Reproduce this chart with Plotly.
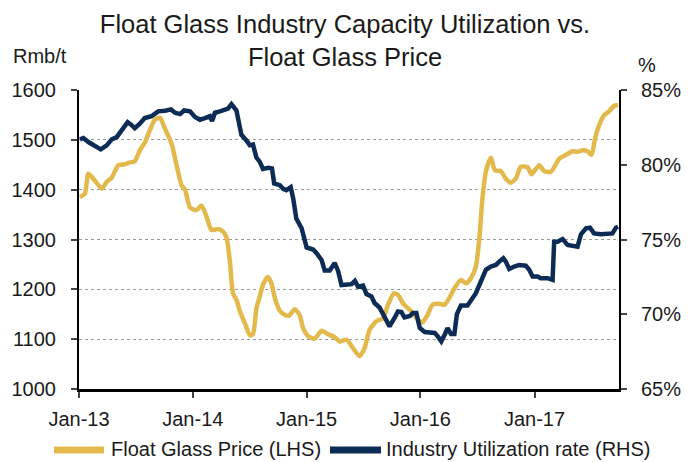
import plotly.graph_objects as go

# ---- data ----
price_dates = [
    "2013-01-04","2013-01-20","2013-01-31","2013-02-16","2013-03-15","2013-03-31","2013-04-16","2013-05-07",
    "2013-05-28","2013-06-08","2013-06-29","2013-07-15","2013-07-31","2013-08-16","2013-09-01","2013-09-18",
    "2013-10-04","2013-10-25","2013-11-10","2013-11-26","2013-12-07","2013-12-23",
    "2014-01-13","2014-01-29","2014-02-14","2014-03-02","2014-03-23","2014-04-08","2014-04-19","2014-04-30",
    "2014-05-10","2014-05-21","2014-06-01","2014-06-17","2014-07-03","2014-07-13","2014-07-24","2014-08-04",
    "2014-08-14","2014-08-29","2014-09-10","2014-09-21","2014-10-07","2014-10-23","2014-11-05","2014-11-24",
    "2014-12-10","2014-12-21",
    "2015-01-06","2015-01-27","2015-02-18","2015-03-11","2015-04-01","2015-04-17","2015-05-09","2015-05-30",
    "2015-06-20","2015-07-06","2015-07-22","2015-08-13","2015-09-03","2015-09-19","2015-10-08","2015-10-21",
    "2015-11-06","2015-12-03","2015-12-24",
    "2016-01-08","2016-01-24","2016-02-09","2016-03-02","2016-03-18","2016-04-03","2016-04-19","2016-05-10",
    "2016-05-26","2016-06-11","2016-06-27","2016-07-08","2016-07-18","2016-07-29","2016-08-14","2016-08-27",
    "2016-09-15","2016-10-01","2016-10-17","2016-11-02","2016-11-18","2016-12-10","2016-12-22",
    "2017-01-16","2017-02-01","2017-02-23","2017-03-21","2017-04-12","2017-05-03","2017-05-19","2017-06-04",
    "2017-06-20","2017-07-03","2017-07-14","2017-07-27","2017-08-12","2017-08-28","2017-09-13","2017-09-26",
]
price_values = [
    1385, 1392, 1432, 1422, 1402, 1416, 1424, 1449, 1451, 1454, 1457, 1479, 1494, 1519, 1540, 1544,
    1522, 1492, 1449, 1409, 1400, 1364,
    1359, 1368, 1346, 1319, 1321, 1316, 1304, 1256, 1192, 1179, 1156, 1132, 1108, 1110, 1162, 1186,
    1209, 1225, 1213, 1183, 1157, 1149, 1147, 1160, 1148, 1122,
    1106, 1101, 1117, 1110, 1104, 1095, 1099, 1082, 1066, 1082, 1119, 1136, 1142, 1169, 1192, 1189,
    1172, 1156, 1139,
    1134, 1149, 1169, 1171, 1169, 1183, 1202, 1219, 1212, 1222, 1246, 1302, 1382, 1436, 1464, 1439,
    1437, 1422, 1414, 1422, 1446, 1445, 1431,
    1449, 1437, 1436, 1462, 1470, 1477, 1476, 1479, 1477, 1470, 1502, 1529, 1549, 1557, 1568, 1570,
]

util_dates = [
    "2013-01-04","2013-01-15","2013-01-31","2013-02-16","2013-02-27","2013-03-12","2013-03-31","2013-04-16",
    "2013-05-02","2013-05-18","2013-06-06","2013-06-17","2013-06-29","2013-07-15","2013-07-31","2013-08-22",
    "2013-09-12","2013-10-04","2013-10-23","2013-11-05","2013-11-21","2013-12-04","2013-12-23",
    "2014-01-08","2014-01-24","2014-02-09","2014-02-25","2014-03-04","2014-03-13","2014-03-29","2014-04-14",
    "2014-04-24","2014-05-05","2014-05-21","2014-06-01","2014-06-06","2014-06-22","2014-07-03","2014-07-13",
    "2014-07-24","2014-08-04","2014-08-14","2014-08-31","2014-09-12","2014-09-19","2014-10-07","2014-10-18",
    "2014-10-28","2014-11-11","2014-11-19","2014-11-29","2014-12-16",
    "2015-01-01","2015-01-22","2015-02-02","2015-02-18","2015-02-28","2015-03-16","2015-04-01","2015-04-12",
    "2015-04-23","2015-05-09","2015-05-25","2015-06-05","2015-06-15","2015-07-01","2015-07-12","2015-07-28",
    "2015-08-07","2015-08-23","2015-09-08","2015-09-24","2015-10-10","2015-10-21","2015-11-01","2015-11-11",
    "2015-11-28","2015-12-08","2015-12-19","2015-12-30",
    "2016-01-15","2016-01-31","2016-02-16","2016-02-26","2016-03-08","2016-03-20","2016-03-28","2016-04-08",
    "2016-04-19","2016-04-27","2016-05-10","2016-05-31","2016-06-16","2016-06-27","2016-07-13","2016-07-29",
    "2016-08-14","2016-08-30","2016-09-10","2016-09-23","2016-10-01","2016-10-12","2016-10-28","2016-11-13",
    "2016-12-04","2016-12-15","2016-12-26",
    "2017-01-11","2017-01-21","2017-02-12","2017-02-28","2017-03-05","2017-03-16","2017-04-01","2017-04-17",
    "2017-05-08","2017-05-19","2017-05-30","2017-06-15","2017-06-28","2017-07-11","2017-08-02","2017-08-23",
    "2017-09-08","2017-09-19","2017-09-26",
]
util_values = [
    81.70, 81.79, 81.52, 81.35, 81.25, 81.03, 81.30, 81.70, 81.85, 82.30, 82.85, 82.68, 82.45, 82.75, 83.12, 83.25,
    83.57, 83.61, 83.70, 83.48, 83.39, 83.63, 83.57,
    83.19, 83.01, 83.12, 83.25, 82.93, 83.48, 83.57, 83.70, 83.75, 84.05, 83.63, 82.50, 82.00, 81.63, 81.30, 81.35,
    80.48, 80.19, 79.72, 79.79, 79.75, 78.75, 78.63, 78.39, 78.30, 78.50, 77.75, 76.40, 75.75,
    74.47, 74.33, 74.08, 73.63, 72.93, 72.93, 73.43, 72.90, 71.95, 71.97, 72.01, 72.23, 71.85, 71.92, 71.35, 71.19,
    70.75, 70.45, 69.85, 69.19, 69.75, 70.19, 70.15, 69.79, 69.88, 70.08, 70.08, 69.08,
    68.81, 68.81, 68.75, 68.52, 68.19, 68.68, 69.08, 68.68, 68.68, 70.01, 70.59, 70.59, 71.08, 71.41, 72.19, 72.97,
    73.19, 73.30, 73.52, 73.75, 73.52, 73.03, 73.19, 73.30, 73.25, 72.97, 72.52,
    72.52, 72.41, 72.41, 72.30, 74.85, 74.85, 75.03, 74.63, 74.52, 74.52, 75.35, 75.75, 75.79, 75.41, 75.35, 75.35,
    75.41, 75.79, 75.85,
]

x_tick_vals = ["2013-01-01", "2014-01-01", "2015-01-01", "2016-01-01", "2017-01-01"]
x_tick_text = ["Jan-13", "Jan-14", "Jan-15", "Jan-16", "Jan-17"]
series_names = ["Float Glass Price (LHS)", "Industry Utilization rate (RHS)"]

# ---- style ----
FONT = "Liberation Sans, Arial, sans-serif"
GOLD = "#E3B94C"
NAVY = "#0C2C56"
TXT = "#1a1a1a"
FS = 20

# the page body has an 8px default margin, so the figure is 8px smaller and offset
OFF = 8
W, H = 696 - OFF, 462 - OFF

fig = go.Figure()
fig.add_trace(go.Scatter(
    x=price_dates, y=price_values, mode="lines", name=series_names[0],
    line=dict(color=GOLD, width=4.5, shape="spline", smoothing=0.6),
    showlegend=False, yaxis="y",
))
fig.add_trace(go.Scatter(
    x=util_dates, y=util_values, mode="lines", name=series_names[1],
    line=dict(color=NAVY, width=4.5),
    showlegend=False, yaxis="y2",
))

# manual legend (paper coords; plot area spans page x 79..619, y 89.5..389)
def px_x(p):
    return (p - 79) / 540.0

def px_y(p):
    return (389 - p) / 299.5

shapes = [
    dict(type="line", xref="paper", yref="paper", x0=px_x(54), x1=px_x(104), y0=px_y(450), y1=px_y(450),
         line=dict(color=GOLD, width=7)),
    dict(type="line", xref="paper", yref="paper", x0=px_x(330), x1=px_x(381), y0=px_y(450), y1=px_y(450),
         line=dict(color=NAVY, width=7)),
]
annotations = [
    dict(text=series_names[0], xref="paper", yref="paper", x=px_x(109), y=px_y(449), xanchor="left",
         yanchor="middle", showarrow=False, font=dict(family=FONT, size=FS, color=TXT)),
    dict(text=series_names[1], xref="paper", yref="paper", x=px_x(384), y=px_y(449), xanchor="left",
         yanchor="middle", showarrow=False, font=dict(family=FONT, size=FS, color=TXT)),
    dict(text="Rmb/t", xref="paper", yref="paper", x=px_x(40), y=px_y(55.5), xanchor="center",
         yanchor="middle", showarrow=False, font=dict(family=FONT, size=FS, color=TXT)),
    dict(text="%", xref="paper", yref="paper", x=px_x(647), y=px_y(64), xanchor="center",
         yanchor="middle", showarrow=False, font=dict(family=FONT, size=FS, color=TXT)),
]

fig.update_layout(
    width=W, height=H,
    margin=dict(l=79 - OFF, r=696 - 619, t=90 - OFF, b=462 - 389, autoexpand=False),
    paper_bgcolor="white", plot_bgcolor="white",
    font=dict(family=FONT, size=FS, color=TXT),
    showlegend=False,
    title=dict(text="Float Glass Industry Capacity Utilization vs.<br>Float Glass Price",
               x=(345 - OFF) / W, xanchor="center", y=0.945, yanchor="top", yref="container",
               font=dict(family=FONT, size=25.5, color=TXT)),
    xaxis=dict(
        type="date", range=["2013-01-01", "2017-09-29"],
        tickvals=x_tick_vals, ticktext=x_tick_text,
        showline=True, linecolor="black", linewidth=2.5,
        ticks="outside", ticklen=6, tickwidth=2, tickcolor="#444",
        showgrid=False, zeroline=False,
        tickfont=dict(size=FS), ticklabelstandoff=4,
    ),
    yaxis=dict(
        range=[1000, 1600], dtick=100, tick0=1000,
        showline=True, linecolor="black", linewidth=2,
        ticks="outside", ticklen=6, tickwidth=2, tickcolor="#444",
        showgrid=True, gridcolor="#9a9a9a", gridwidth=1, griddash="dot",
        zeroline=False, tickfont=dict(size=FS), ticklabelstandoff=11,
    ),
    yaxis2=dict(
        range=[65, 85], dtick=5, tick0=65, ticksuffix="%",
        overlaying="y", side="right",
        showline=True, linecolor="black", linewidth=2,
        ticks="outside", ticklen=6, tickwidth=2, tickcolor="#444",
        showgrid=False, zeroline=False, tickfont=dict(size=FS), ticklabelstandoff=10,
    ),
    shapes=shapes,
    annotations=annotations,
)

fig.write_html("out.html")
